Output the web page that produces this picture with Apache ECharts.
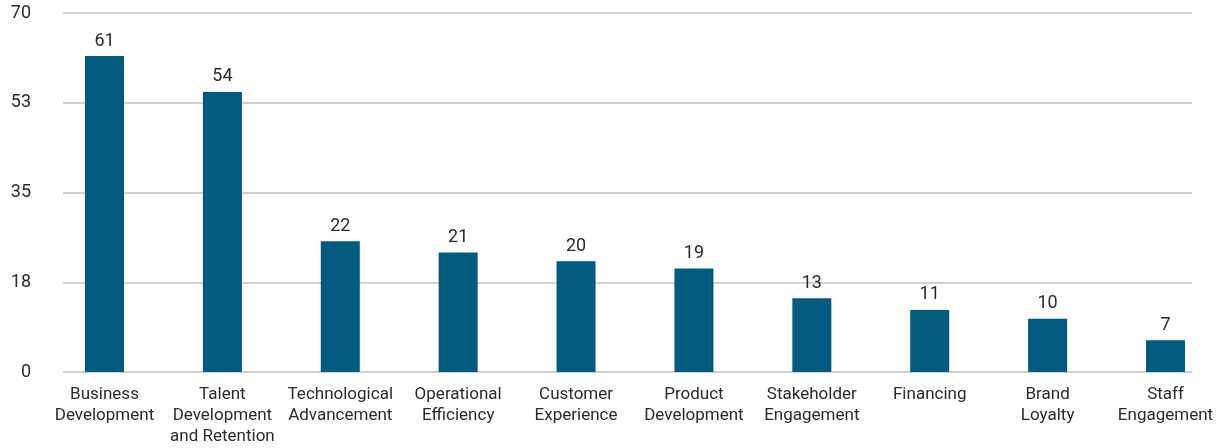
<!DOCTYPE html>
<html>
<head>
<meta charset="utf-8">
<script src="https://cdn.jsdelivr.net/npm/echarts@6/dist/echarts.min.js"></script>
<style>
html,body{margin:0;padding:0;background:#fff;}
#chart{width:1219px;height:448px;}
</style>
</head>
<body>
<div id="chart"></div>
<script>
var categories = [
  "Business\nDevelopment",
  "Talent\nDevelopment\nand Retention",
  "Technological\nAdvancement",
  "Operational\nEfficiency",
  "Customer\nExperience",
  "Product\nDevelopment",
  "Stakeholder\nEngagement",
  "Financing",
  "Brand\nLoyalty",
  "Staff\nEngagement"
];
// bar heights as drawn in the reference
var barValues = [61.6, 54.6, 25.5, 23.3, 21.6, 20.2, 14.4, 12.1, 10.4, 6.2];
// value labels printed above bars
var barLabels = ["61", "54", "22", "21", "20", "19", "13", "11", "10", "7"];
var yTickLabels = ["0", "18", "35", "53", "70"];

var FONT = "Roboto";
var TXT = "#2b2b2b";
var chart = echarts.init(document.getElementById('chart'), null, {renderer: 'canvas'});
chart.setOption({
  animation: false,
  backgroundColor: '#ffffff',
  grid: [
    {left: 63, right: 27, top: 13, bottom: 76, containLabel: false},
    {left: 104.5, right: 53.5, top: 13, bottom: 76, containLabel: false}
  ],
  xAxis: [
    {gridIndex: 0, type: 'value', min: 0, max: 1, show: false},
    {
      gridIndex: 1, type: 'category', data: categories, boundaryGap: false,
      axisLine: {show: false}, axisTick: {show: false},
      axisLabel: {interval: 0, hideOverlap: false, color: TXT, fontFamily: FONT, fontSize: 17, lineHeight: 21, margin: 12, align: 'center'}
    }
  ],
  yAxis: [
    {
      gridIndex: 0, type: 'value', min: 0, max: 70, interval: 17.5,
      axisLine: {show: false}, axisTick: {show: false},
      splitLine: {show: true, lineStyle: {color: '#c0c0c0', width: 1.5}},
      axisLabel: {color: TXT, fontFamily: FONT, fontSize: 18, margin: 32,
        formatter: function (v) { var i = Math.round(v / 17.5); return yTickLabels[i] || ''; }}
    },
    {gridIndex: 1, type: 'value', min: 0, max: 70, show: false}
  ],
  series: [{
    type: 'bar', xAxisIndex: 1, yAxisIndex: 1,
    data: barValues, barWidth: 39,
    itemStyle: {color: '#005b7e'},
    label: {show: true, position: 'top', distance: 6, color: TXT, fontFamily: FONT, fontSize: 18,
      formatter: function (p) { return barLabels[p.dataIndex]; }}
  }]
});
</script>
</body>
</html>
